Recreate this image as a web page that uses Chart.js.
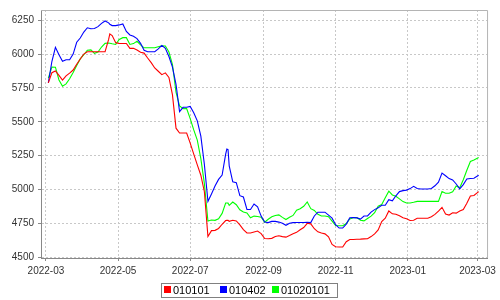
<!DOCTYPE html>
<html>
<head>
<meta charset="utf-8">
<script src="https://cdn.jsdelivr.net/npm/chart.js@4/dist/chart.umd.min.js"></script>
<style>
html,body{margin:0;padding:0;background:#fff;}
canvas{display:block;}
</style>
</head>
<body>
<canvas id="c" width="500" height="300" style="width:500px;height:300px"></canvas>
<script>
const seriesNames = ['010101', '010402', '01020101'];
const dates = [
'2022-03-03','2022-03-06','2022-03-09','2022-03-12','2022-03-15','2022-03-18','2022-03-21','2022-03-24','2022-03-27','2022-03-30',
'2022-04-02','2022-04-05','2022-04-08','2022-04-11','2022-04-14','2022-04-17','2022-04-20','2022-04-23','2022-04-24','2022-04-26','2022-04-29',
'2022-05-02','2022-05-05','2022-05-08','2022-05-11','2022-05-14','2022-05-17','2022-05-20','2022-05-23','2022-05-26','2022-05-29',
'2022-06-01','2022-06-04','2022-06-07','2022-06-10','2022-06-13','2022-06-16','2022-06-19','2022-06-22','2022-06-25','2022-06-28',
'2022-07-01','2022-07-04','2022-07-07','2022-07-10','2022-07-13','2022-07-16','2022-07-19','2022-07-22','2022-07-25','2022-07-28','2022-07-31',
'2022-08-01','2022-08-02','2022-08-03','2022-08-06','2022-08-09','2022-08-12','2022-08-15','2022-08-18','2022-08-21','2022-08-24','2022-08-27','2022-08-30',
'2022-09-02','2022-09-05','2022-09-08','2022-09-11','2022-09-14','2022-09-17','2022-09-20','2022-09-23','2022-09-26','2022-09-29',
'2022-10-02','2022-10-05','2022-10-08','2022-10-11','2022-10-14','2022-10-17','2022-10-20','2022-10-23','2022-10-26','2022-10-29',
'2022-11-01','2022-11-04','2022-11-07','2022-11-10','2022-11-13','2022-11-16','2022-11-19','2022-11-22','2022-11-25','2022-11-28',
'2022-12-01','2022-12-04','2022-12-07','2022-12-10','2022-12-13','2022-12-16','2022-12-19','2022-12-22','2022-12-25','2022-12-28','2022-12-31',
'2023-01-03','2023-01-06','2023-01-09','2023-01-12','2023-01-15','2023-01-18','2023-01-21','2023-01-24','2023-01-27','2023-01-30',
'2023-02-02','2023-02-05','2023-02-08','2023-02-11','2023-02-14','2023-02-17','2023-02-20','2023-02-23','2023-02-26',
'2023-03-02'
];
const s010101 = [
5787,5862,5875,5842,5807,5839,5859,5882,5925,5963,
6000,6017,6017,6017,6017,6017,6017,6108,6148,6136,6084,
6078,6078,6078,6042,6042,6030,6013,6007,5971,5937,
5897,5873,5848,5861,5827,5699,5453,5417,5417,5417,
5343,5262,5182,5106,4984,4654,4697,4699,4713,4744,4771,
4773,4773,4766,4773,4768,4739,4704,4680,4680,4687,4694,4675,
4639,4637,4640,4653,4659,4653,4649,4661,4674,4684,
4703,4720,4751,4747,4711,4688,4679,4673,4651,4595,
4578,4576,4576,4615,4631,4632,4633,4634,4636,4637,
4653,4673,4702,4764,4789,4842,4821,4818,4806,4792,4784,
4772,4773,4788,4788,4788,4788,4800,4817,4841,4869,
4820,4812,4829,4826,4841,4853,4899,4952,4956,
4985
];
const s010402 = [
5787,5945,6050,5995,5946,5958,5958,6000,6087,6118,
6162,6194,6187,6188,6202,6226,6244,6230,6220,6210,6210,
6215,6222,6167,6141,6131,6114,6079,6028,6017,6017,
6017,6038,6064,6042,5982,5903,5777,5575,5607,5607,
5613,5567,5507,5394,5185,4913,4968,5026,5075,5107,5261,
5299,5295,5175,5057,5051,4955,4945,4853,4853,4893,4872,4804,
4760,4756,4765,4765,4760,4751,4736,4752,4756,4757,
4757,4757,4759,4756,4805,4833,4833,4833,4811,4789,
4741,4716,4716,4745,4792,4793,4791,4782,4805,4805,
4834,4852,4865,4884,4884,4925,4917,4954,4985,4992,4996,
5007,5024,5008,5004,5004,5004,5008,5028,5055,5121,
5102,5081,5071,5041,5006,5037,5078,5082,5084,
5105
];
const s01020101 = [
5822,5904,5903,5809,5763,5780,5818,5864,5915,5964,
5995,6028,6031,6005,6015,6052,6079,6081,6080,6076,6071,
6107,6121,6121,6071,6077,6094,6067,6046,6046,6046,
6046,6054,6060,6059,6015,5922,5719,5618,5597,5597,
5524,5440,5365,5228,5044,4768,4775,4773,4785,4824,4901,
4901,4900,4883,4908,4888,4851,4834,4827,4792,4804,4801,4796,
4760,4781,4799,4809,4813,4795,4779,4795,4809,4848,
4858,4877,4909,4859,4846,4817,4805,4805,4800,4767,
4735,4733,4733,4749,4783,4793,4793,4774,4769,4787,
4804,4829,4877,4890,4939,4988,4960,4950,4931,4911,4901,
4901,4906,4913,4913,4913,4913,4913,4913,4913,4985,
4973,4973,4984,5027,5014,5073,5143,5207,5218,
5237
];
const seriesColors = ['#ff0000', '#0000ff', '#00ff00'];
const yTicks = [4500, 4750, 5000, 5250, 5500, 5750, 6000, 6250];
const xTickMonths = ['2022-03', '2022-05', '2022-07', '2022-09', '2022-11', '2023-01', '2023-03'];

function toDay(s) {
  const p = s.split('-').map(Number);
  return Date.UTC(p[0], p[1] - 1, p[2] || 1) / 86400000;
}
function fmtMonth(v) {
  const d = new Date(Math.round(v) * 86400000);
  return d.getUTCFullYear() + '-' + String(d.getUTCMonth() + 1).padStart(2, '0');
}
const baseDay = toDay('2022-03-01');
const FONT = "'Liberation Sans', Arial, sans-serif";
Chart.defaults.font.family = FONT;

const allSeries = [s010101, s010402, s01020101];
const datasets = allSeries.map((vals, k) => ({
  label: seriesNames[k],
  data: dates.map((d, i) => ({ x: toDay(d), y: vals[i] })),
  borderColor: seriesColors[k],
  backgroundColor: seriesColors[k],
  borderWidth: 1.1,
  pointRadius: 0,
  tension: 0,
  fill: false
}));

const framePlugin = {
  id: 'frame',
  afterDatasetsDraw(chart) {
    const { ctx, chartArea: a } = chart;
    ctx.save();
    ctx.strokeStyle = '#b4b4b4';
    ctx.lineWidth = 1;
    ctx.beginPath();
    ctx.moveTo(a.left, a.top + 0.5);
    ctx.lineTo(a.right + 0.5, a.top + 0.5);
    ctx.lineTo(a.right + 0.5, a.bottom);
    ctx.stroke();
    ctx.restore();
  },
  afterDraw(chart) {
    const ctx = chart.ctx;
    ctx.save();
    // legend box
    ctx.strokeStyle = '#808080';
    ctx.lineWidth = 1;
    ctx.strokeRect(161.5, 283.5, 176, 14);
    ctx.font = '11px ' + FONT;
    ctx.textBaseline = 'middle';
    ctx.textAlign = 'left';
    const sq = [164, 220, 272];
    chart.data.datasets.forEach((ds, i) => {
      ctx.fillStyle = ds.borderColor;
      ctx.fillRect(sq[i], 286, 7, 7);
      ctx.fillStyle = '#000';
      ctx.fillText(ds.label, sq[i] + 9, 290.5);
    });
    ctx.restore();
  }
};

new Chart(document.getElementById('c'), {
  type: 'line',
  data: { datasets },
  options: {
    responsive: false,
    animation: false,
    devicePixelRatio: 1,
    layout: { padding: { top: 4, right: 8, left: 0, bottom: 0 } },
    plugins: { legend: { display: false }, tooltip: { enabled: false } },
    scales: {
      x: {
        type: 'linear',
        min: baseDay - 4.2,
        max: baseDay + 373.1,
        afterBuildTicks(scale) { scale.ticks = xTickMonths.map(m => ({ value: toDay(m + '-01') })); },
        afterFit(scale) { scale.height = 42; },
        ticks: {
          callback: v => fmtMonth(v),
          autoSkip: false, maxRotation: 0, minRotation: 0,
          color: '#333', padding: 4,
          font: { size: 10, family: FONT }
        },
        grid: { color: '#c8c8c8', lineWidth: 1, tickLength: 3, tickColor: '#888' },
        border: { display: true, color: '#888', width: 1, dash: [2, 2] }
      },
      y: {
        type: 'linear',
        min: 4495,
        max: 6325,
        afterBuildTicks(scale) { scale.ticks = yTicks.map(v => ({ value: v })); },
        afterFit(scale) { scale.width = 41; },
        ticks: {
          callback: v => String(v),
          color: '#333', padding: 4,
          font: { size: 10, family: FONT }
        },
        grid: { color: '#c8c8c8', lineWidth: 1, tickLength: 3, tickColor: '#888' },
        border: { display: true, color: '#888', width: 1, dash: [2, 2] }
      }
    }
  },
  plugins: [framePlugin]
});
</script>
</body>
</html>
